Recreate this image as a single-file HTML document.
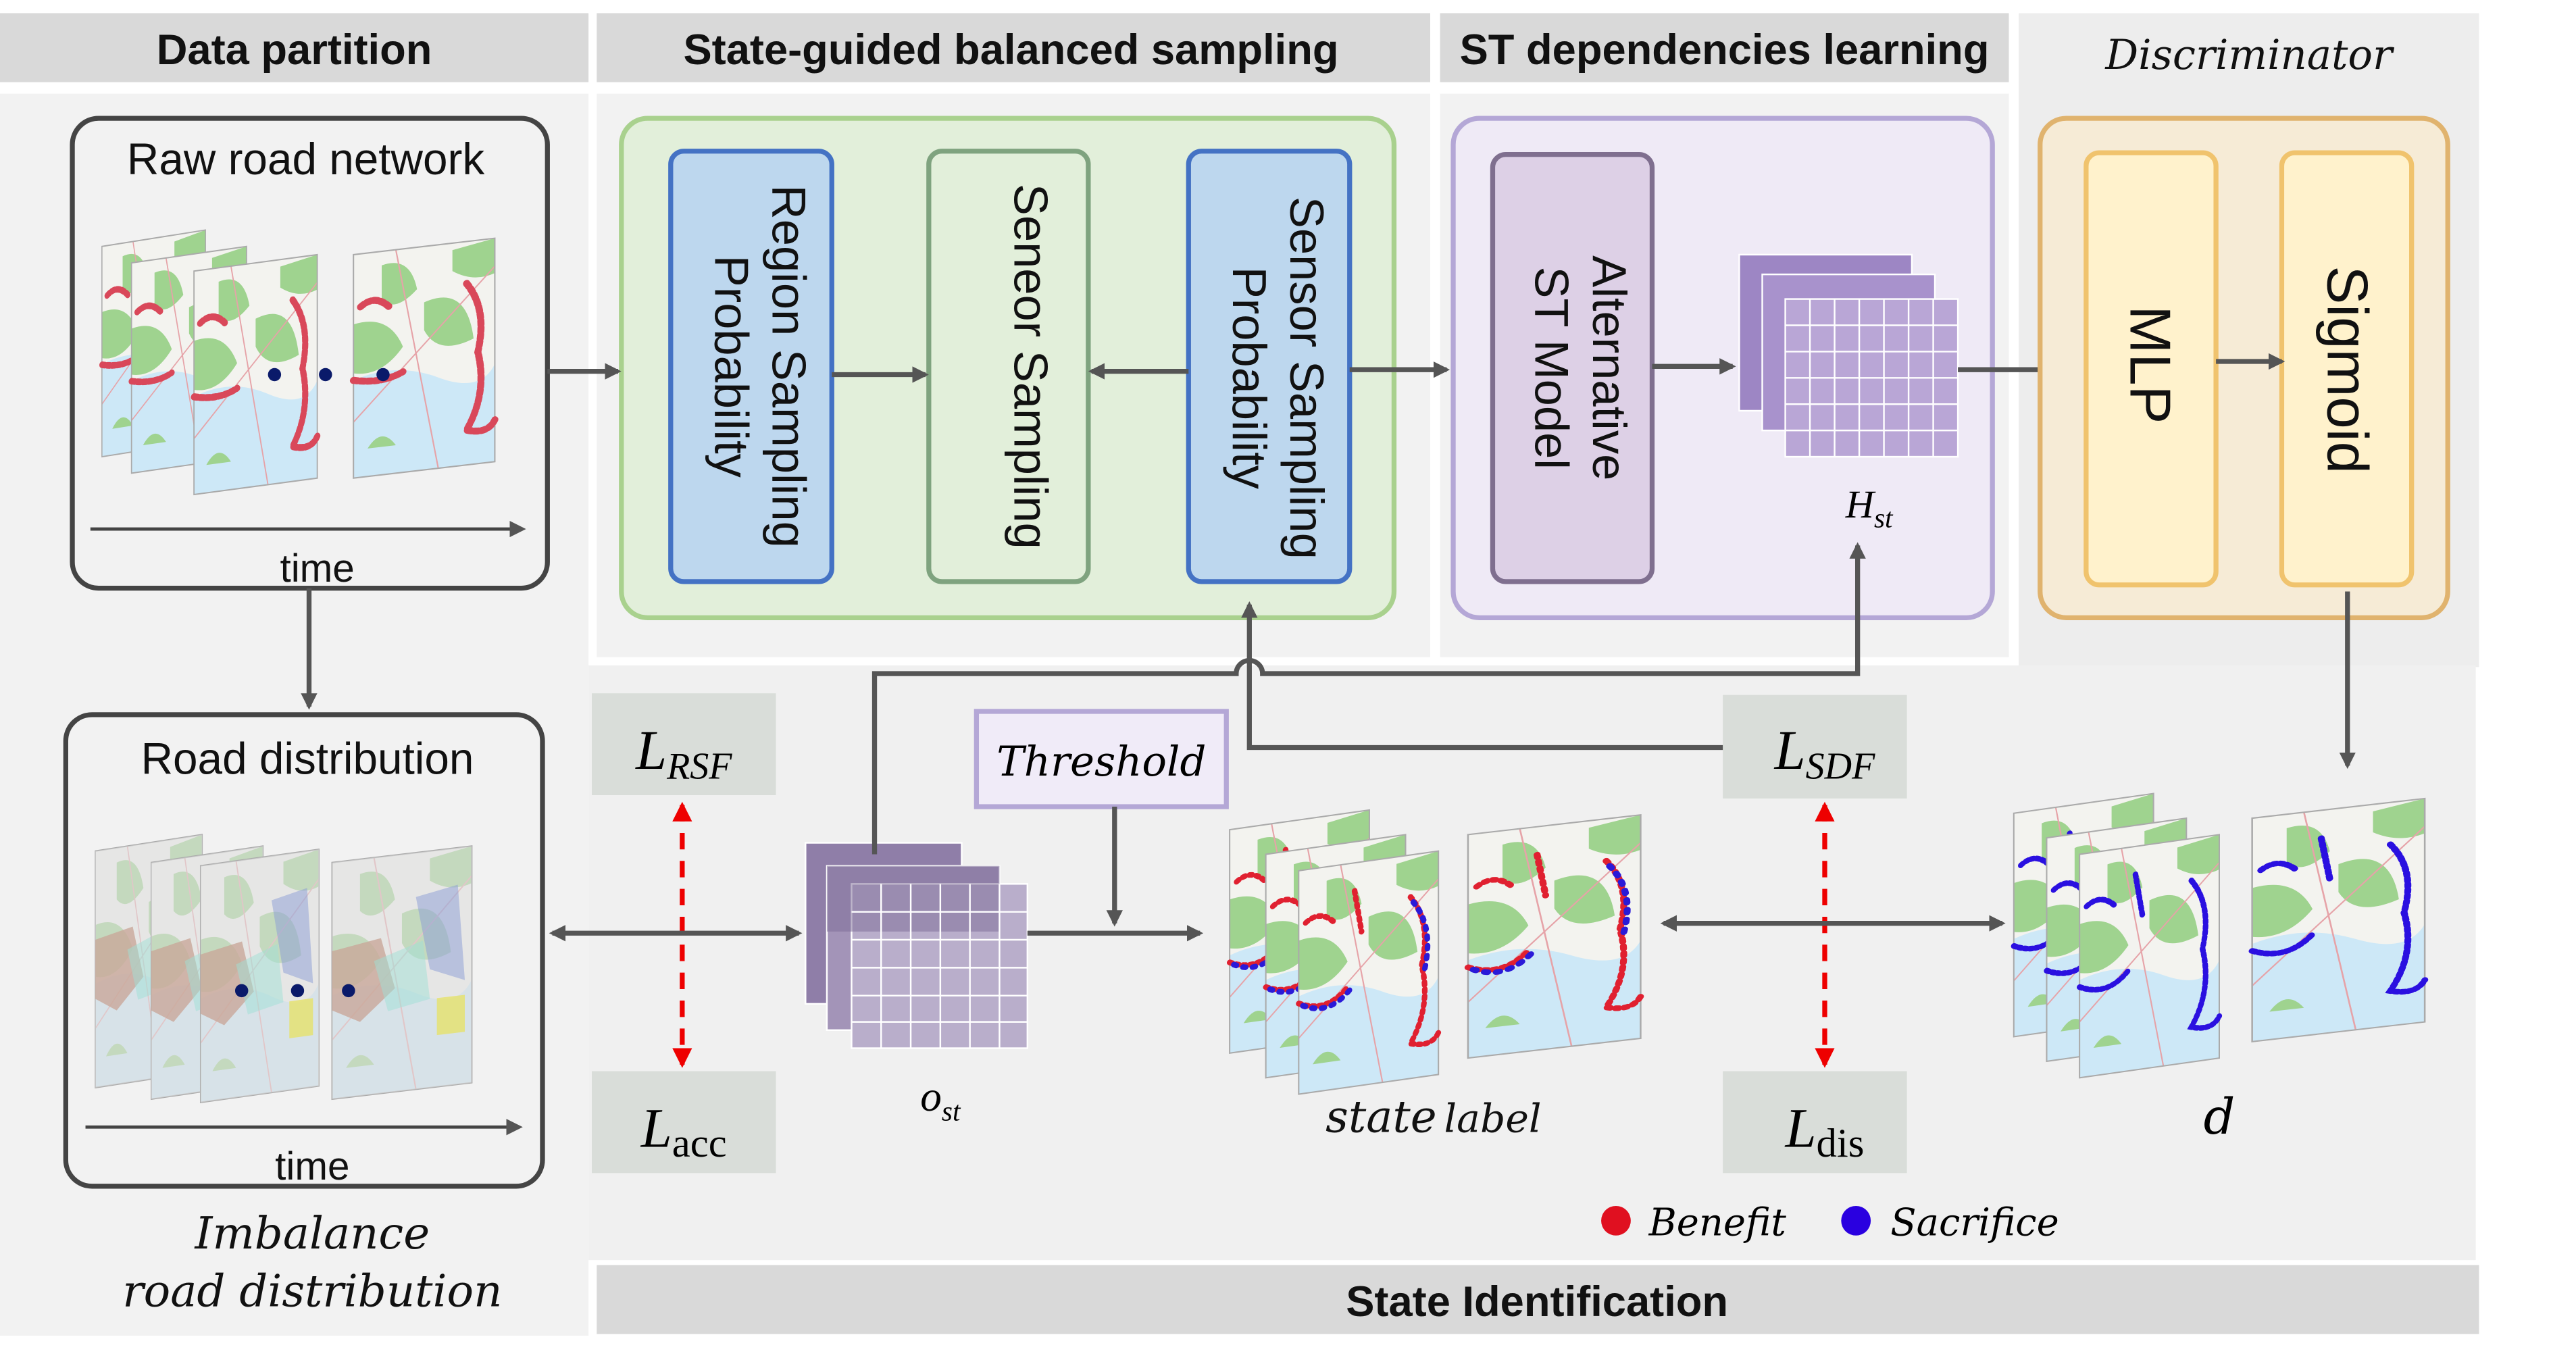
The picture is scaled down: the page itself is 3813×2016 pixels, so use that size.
<!DOCTYPE html>
<html><head><meta charset="utf-8"><style>
html,body{margin:0;padding:0;background:#fff;width:3813px;height:2016px;overflow:hidden}
svg{display:block}
text{font-family:"Liberation Sans",sans-serif}
.h{font-weight:bold;font-size:26px;fill:#111}
.s{font-family:"DejaVu Serif",serif;font-style:italic}
.l{font-family:"Liberation Serif",serif;font-style:italic}
</style></head><body>
<svg width="3813" height="2016" viewBox="0 0 1567 829" preserveAspectRatio="none" xmlns="http://www.w3.org/2000/svg">
<defs>
<marker id="ar" markerWidth="10" markerHeight="10" refX="8" refY="5" orient="auto" markerUnits="userSpaceOnUse"><path d="M0,0 L10,5 L0,10 z" fill="#555"/></marker>
<marker id="al" markerWidth="10" markerHeight="10" refX="2" refY="5" orient="auto" markerUnits="userSpaceOnUse"><path d="M10,0 L0,5 L10,10 z" fill="#555"/></marker>
<marker id="rr" markerWidth="12" markerHeight="12" refX="10" refY="6" orient="auto" markerUnits="userSpaceOnUse"><path d="M0,0 L12,6 L0,12 z" fill="#e00"/></marker>
<marker id="rl" markerWidth="12" markerHeight="12" refX="2" refY="6" orient="auto" markerUnits="userSpaceOnUse"><path d="M12,0 L0,6 L12,12 z" fill="#e00"/></marker>
<clipPath id="mc"><rect x="0" y="0" width="100" height="160"/></clipPath>
<g id="map">
<g clip-path="url(#mc)">
<rect width="100" height="160" fill="#f3f3ef"/>
<path d="M0,90 Q30,80 60,95 T100,90 L100,160 L0,160z" fill="#cde8f7"/>
<path d="M20,10 Q40,5 45,30 Q30,45 20,35z M50,40 Q80,30 85,70 Q60,80 50,60z M0,50 Q25,45 35,70 Q20,90 0,85z M70,5 L100,0 L100,25 Q85,30 70,20z" fill="#9fd38f"/>
<path d="M10,140 Q20,125 30,140z" fill="#9fd38f"/>
<path d="M0,120 L60,60 L100,20 M30,0 L60,160" stroke="#e6a3a8" stroke-width="1" fill="none"/>
</g>
<rect width="100" height="160" fill="none" stroke="#aaa" stroke-width="1"/>
</g>
<g id="mapR"><use href="#map"/>
<path d="M0,90 Q20,95 35,88 M5,38 Q15,30 25,40 M80,30 Q95,50 88,80 Q95,110 80,135 Q95,140 100,130" stroke="#d9485a" stroke-width="5" stroke-dasharray="3,2" fill="none" stroke-linecap="round"/>
</g>
<g id="mapD"><use href="#map"/>
<rect width="100" height="160" fill="#ddd" opacity="0.6"/>
<path d="M0,60 L35,55 L45,90 L20,110 L0,100z" fill="#c9a89a" opacity="0.8"/>
<path d="M60,30 L90,25 L95,90 L70,80z" fill="#8a9cd6" opacity="0.5"/>
<path d="M75,100 L95,100 L95,125 L75,125z" fill="#e6e26a" opacity="0.8"/>
<path d="M30,70 L65,60 L70,100 L40,105z" fill="#9fe0d6" opacity="0.5"/>
</g>
<g id="mapS"><use href="#map"/>
<path d="M0,95 Q20,105 35,88 M5,38 Q15,30 25,40 M80,30 Q95,50 88,80 Q95,110 80,135 Q95,140 100,130 M40,20 L45,50" stroke="#e02030" stroke-width="4" stroke-dasharray="2,3" fill="none" stroke-linecap="round"/>
<path d="M3,97 Q22,107 37,90 M82,34 Q97,54 90,84" stroke="#2a1ad8" stroke-width="4" stroke-dasharray="2,5" fill="none" stroke-linecap="round"/>
</g>
<g id="mapB"><use href="#map"/>
<path d="M0,95 Q20,105 35,88 M5,38 Q15,30 25,40 M80,30 Q95,50 88,80 Q95,110 80,135 Q95,140 100,130 M40,20 L45,50" stroke="#2a10e0" stroke-width="4" stroke-dasharray="2,2" fill="none" stroke-linecap="round"/>
</g>
</defs>

<rect x="0" y="57" width="358" height="756" fill="#f2f2f2"/>
<rect x="363" y="57" width="507" height="343" fill="#f2f2f2"/>
<rect x="876" y="57" width="346" height="343" fill="#f2f2f2"/>
<rect x="1228" y="8" width="280" height="398" fill="#ededed"/>
<rect x="358" y="405" width="1148" height="362" fill="#f0f0f0"/>

<rect x="0" y="8" width="358" height="42" fill="#d9d9d9"/>
<text x="179" y="39" class="h" text-anchor="middle">Data partition</text>
<rect x="363" y="8" width="507" height="42" fill="#d9d9d9"/>
<text x="615" y="39" class="h" text-anchor="middle" font-size="28">State-guided balanced sampling</text>
<rect x="876" y="8" width="346" height="42" fill="#d9d9d9"/>
<text x="1049" y="39" class="h" text-anchor="middle">ST dependencies learning</text>
<text x="1368" y="42" class="s" font-size="25" text-anchor="middle" fill="#111">Discriminator</text>
<rect x="363" y="770" width="1145" height="42" fill="#d9d9d9"/>
<text x="935" y="801" class="h" text-anchor="middle">State Identification</text>

<rect x="44" y="72" width="289" height="286" rx="16" fill="#f2f2f2" stroke="#444" stroke-width="3"/>
<text x="186" y="106" font-size="27" text-anchor="middle" fill="#111">Raw road network</text>
<use href="#mapR" transform="matrix(0.63,-0.1,0,0.8,62,150)"/>
<use href="#mapR" transform="matrix(0.7,-0.1,0,0.8,80,160)"/>
<use href="#mapR" transform="matrix(0.75,-0.1,0,0.85,118,165)"/>
<use href="#mapR" transform="matrix(0.86,-0.1,0,0.85,215,155)"/>
<circle cx="167" cy="228" r="4" fill="#0a1a6a"/><circle cx="198" cy="228" r="4" fill="#0a1a6a"/><circle cx="233" cy="228" r="4" fill="#0a1a6a"/>
<line x1="55" y1="322" x2="318" y2="322" stroke="#444" stroke-width="2" marker-end="url(#ar)"/>
<text x="193" y="354" font-size="24" text-anchor="middle" fill="#111">time</text>
<line x1="188" y1="358" x2="188" y2="430" stroke="#555" stroke-width="3" marker-end="url(#ar)"/>

<rect x="40" y="435" width="290" height="287" rx="16" fill="#f2f2f2" stroke="#444" stroke-width="3"/>
<text x="187" y="471" font-size="27" text-anchor="middle" fill="#111">Road distribution</text>
<use href="#mapD" transform="matrix(0.65,-0.1,0,0.9,58,518)"/>
<use href="#mapD" transform="matrix(0.68,-0.1,0,0.9,92,525)"/>
<use href="#mapD" transform="matrix(0.72,-0.1,0,0.9,122,527)"/>
<use href="#mapD" transform="matrix(0.85,-0.1,0,0.9,202,525)"/>
<circle cx="147" cy="603" r="4" fill="#0a1a6a"/><circle cx="181" cy="603" r="4" fill="#0a1a6a"/><circle cx="212" cy="603" r="4" fill="#0a1a6a"/>
<line x1="52" y1="686" x2="316" y2="686" stroke="#444" stroke-width="2" marker-end="url(#ar)"/>
<text x="190" y="718" font-size="24" text-anchor="middle" fill="#111">time</text>
<text x="190" y="760" class="s" font-size="27" text-anchor="middle" fill="#111">Imbalance</text>
<text x="190" y="795" class="s" font-size="27" text-anchor="middle" fill="#111">road distribution</text>

<rect x="378" y="72" width="470" height="304" rx="16" fill="#e2efda" stroke="#a9d18e" stroke-width="3"/>
<rect x="408" y="92" width="98" height="262" rx="8" fill="#bdd7ee" stroke="#4472c4" stroke-width="3"/>
<rect x="565" y="92" width="97" height="262" rx="8" fill="#e2efda" stroke="#7fa37f" stroke-width="3"/>
<rect x="723" y="92" width="98" height="262" rx="8" fill="#bdd7ee" stroke="#4472c4" stroke-width="3"/>
<g font-size="29" fill="#111" text-anchor="middle">
<text transform="translate(457,223) rotate(90)"><tspan x="0" y="-13">Region Sampling</tspan><tspan x="0" y="22">Probability</tspan></text>
<text transform="translate(613,223) rotate(90)"><tspan x="0" y="-4">Seneor Sampling</tspan></text>
<text transform="translate(772,230) rotate(90)"><tspan x="0" y="-13">Sensor Sampling</tspan><tspan x="0" y="22">Probability</tspan></text>
</g>
<line x1="333" y1="226" x2="376" y2="226" stroke="#555" stroke-width="3" marker-end="url(#ar)"/>
<line x1="506" y1="228" x2="563" y2="228" stroke="#555" stroke-width="3" marker-end="url(#ar)"/>
<line x1="723" y1="226" x2="664" y2="226" stroke="#555" stroke-width="3" marker-end="url(#ar)"/>
<line x1="821" y1="225" x2="880" y2="225" stroke="#555" stroke-width="3" marker-end="url(#ar)"/>

<rect x="884" y="72" width="328" height="304" rx="16" fill="#efeaf6" stroke="#b4a7d6" stroke-width="3"/>
<rect x="908" y="94" width="97" height="260" rx="8" fill="#ddd0e6" stroke="#7f6f8f" stroke-width="3"/>
<text transform="translate(956,224) rotate(90)" font-size="29" text-anchor="middle" fill="#111"><tspan x="0" y="-13">Alternative</tspan><tspan x="0" y="22">ST Model</tspan></text>
<line x1="1005" y1="223" x2="1054" y2="223" stroke="#555" stroke-width="3" marker-end="url(#ar)"/>
<g stroke="#fff" stroke-width="1">
<rect x="1058" y="155" width="105" height="95" fill="#9d86c4"/>
<rect x="1072" y="167" width="105" height="95" fill="#a892cc"/>
<rect x="1086" y="182" width="105" height="96" fill="#b9a6d6"/>
</g>
<g stroke="#fff" stroke-width="1" fill="none">
<path d="M1086,198 H1191 M1086,214 H1191 M1086,230 H1191 M1086,246 H1191 M1086,262 H1191 M1101,182 V278 M1116,182 V278 M1131,182 V278 M1146,182 V278 M1161,182 V278 M1176,182 V278"/>
</g>
<text x="1137" y="315" class="l" font-size="24" text-anchor="middle">H<tspan font-size="17" dy="6">st</tspan></text>
<line x1="1191" y1="225" x2="1267" y2="225" stroke="#555" stroke-width="3" marker-end="url(#ar)"/>

<rect x="1241" y="72" width="248" height="304" rx="16" fill="#f6ebd6" stroke="#e0b36e" stroke-width="3"/>
<rect x="1269" y="93" width="79" height="263" rx="8" fill="#fff2cc" stroke="#f0c36d" stroke-width="3"/>
<rect x="1388" y="93" width="79" height="263" rx="8" fill="#fff2cc" stroke="#f0c36d" stroke-width="3"/>
<text transform="translate(1308,222) rotate(90)" font-size="35" text-anchor="middle" fill="#111" y="12">MLP</text>
<text transform="translate(1428,225) rotate(90)" font-size="35" text-anchor="middle" fill="#111" y="12">Sigmoid</text>
<line x1="1348" y1="220" x2="1388" y2="220" stroke="#555" stroke-width="3" marker-end="url(#ar)"/>
<line x1="1428" y1="360" x2="1428" y2="466" stroke="#555" stroke-width="3" marker-end="url(#ar)"/>

<rect x="360" y="422" width="112" height="62" fill="#d9ddd9"/>
<text x="416" y="468" class="l" font-size="34" text-anchor="middle">L<tspan font-size="23" dy="6">RSF</tspan></text>
<rect x="360" y="652" width="112" height="62" fill="#d9ddd9"/>
<text x="416" y="698" class="l" font-size="34" text-anchor="middle">L<tspan font-style="normal" font-size="25" dy="6">acc</tspan></text>
<rect x="1048" y="423" width="112" height="63" fill="#d9ddd9"/>
<text x="1110" y="468" class="l" font-size="34" text-anchor="middle">L<tspan font-size="23" dy="6">SDF</tspan></text>
<rect x="1048" y="652" width="112" height="62" fill="#d9ddd9"/>
<text x="1110" y="698" class="l" font-size="34" text-anchor="middle">L<tspan font-style="normal" font-size="25" dy="6">dis</tspan></text>
<line x1="415" y1="490" x2="415" y2="648" stroke="#e00" stroke-width="3" stroke-dasharray="10,7" marker-start="url(#rl)" marker-end="url(#rr)"/>
<line x1="1110" y1="490" x2="1110" y2="648" stroke="#e00" stroke-width="3" stroke-dasharray="10,7" marker-start="url(#rl)" marker-end="url(#rr)"/>

<rect x="594" y="433" width="152" height="58" fill="#f0ebf8" stroke="#b4a7d6" stroke-width="3"/>
<text x="670" y="472" class="s" font-size="25" text-anchor="middle">Threshold</text>
<line x1="678" y1="491" x2="678" y2="562" stroke="#555" stroke-width="3" marker-end="url(#ar)"/>

<g stroke="#fff" stroke-width="1">
<rect x="490" y="513" width="95" height="98" fill="#8f7ea8"/>
<rect x="503" y="527" width="105" height="100" fill="#a394b8"/>
<rect x="518" y="538" width="107" height="100" fill="#b9aecb"/>
</g>
<rect x="503" y="527" width="105" height="40" fill="#7b6a96" opacity="0.5"/>
<g stroke="#fff" stroke-width="1" fill="none">
<path d="M518,555 H625 M518,572 H625 M518,589 H625 M518,606 H625 M518,622 H625 M536,538 V638 M554,538 V638 M572,538 V638 M590,538 V638 M608,538 V638"/>
</g>
<text x="572" y="676" class="l" font-size="26" text-anchor="middle">o<tspan font-size="17" dy="6">st</tspan></text>

<line x1="336" y1="568" x2="486" y2="568" stroke="#555" stroke-width="3" marker-start="url(#al)" marker-end="url(#ar)"/>
<line x1="625" y1="568" x2="730" y2="568" stroke="#555" stroke-width="3" marker-end="url(#ar)"/>
<path d="M532,520 V410 H752 A8,8 0 0 1 768,410 H1130 V332" stroke="#555" stroke-width="3" fill="none" marker-end="url(#ar)"/>
<path d="M1048,455 H760 V368" stroke="#555" stroke-width="3" fill="none" marker-end="url(#ar)"/>
<line x1="1012" y1="562" x2="1218" y2="562" stroke="#555" stroke-width="3" marker-start="url(#al)" marker-end="url(#ar)"/>

<use href="#mapS" transform="matrix(0.85,-0.12,0,0.85,748,505)"/>
<use href="#mapS" transform="matrix(0.85,-0.12,0,0.85,770,520)"/>
<use href="#mapS" transform="matrix(0.85,-0.12,0,0.85,790,530)"/>
<use href="#mapS" transform="matrix(1.05,-0.12,0,0.85,893,508)"/>
<text x="872" y="689" text-anchor="middle" fill="#111"><tspan class="s" font-size="27">state</tspan> <tspan class="s" font-size="24">label</tspan></text>

<use href="#mapB" transform="matrix(0.85,-0.12,0,0.85,1225,495)"/>
<use href="#mapB" transform="matrix(0.85,-0.12,0,0.85,1245,510)"/>
<use href="#mapB" transform="matrix(0.85,-0.12,0,0.85,1265,520)"/>
<use href="#mapB" transform="matrix(1.05,-0.12,0,0.85,1370,498)"/>
<text x="1350" y="690" class="s" font-size="30" text-anchor="middle">d</text>

<circle cx="983" cy="743" r="9" fill="#e01020"/>
<text x="1003" y="752" class="s" font-size="23">Benefit</text>
<circle cx="1129" cy="743" r="9" fill="#2a00e0"/>
<text x="1150" y="752" class="s" font-size="23">Sacrifice</text>
</svg>
</body></html>
